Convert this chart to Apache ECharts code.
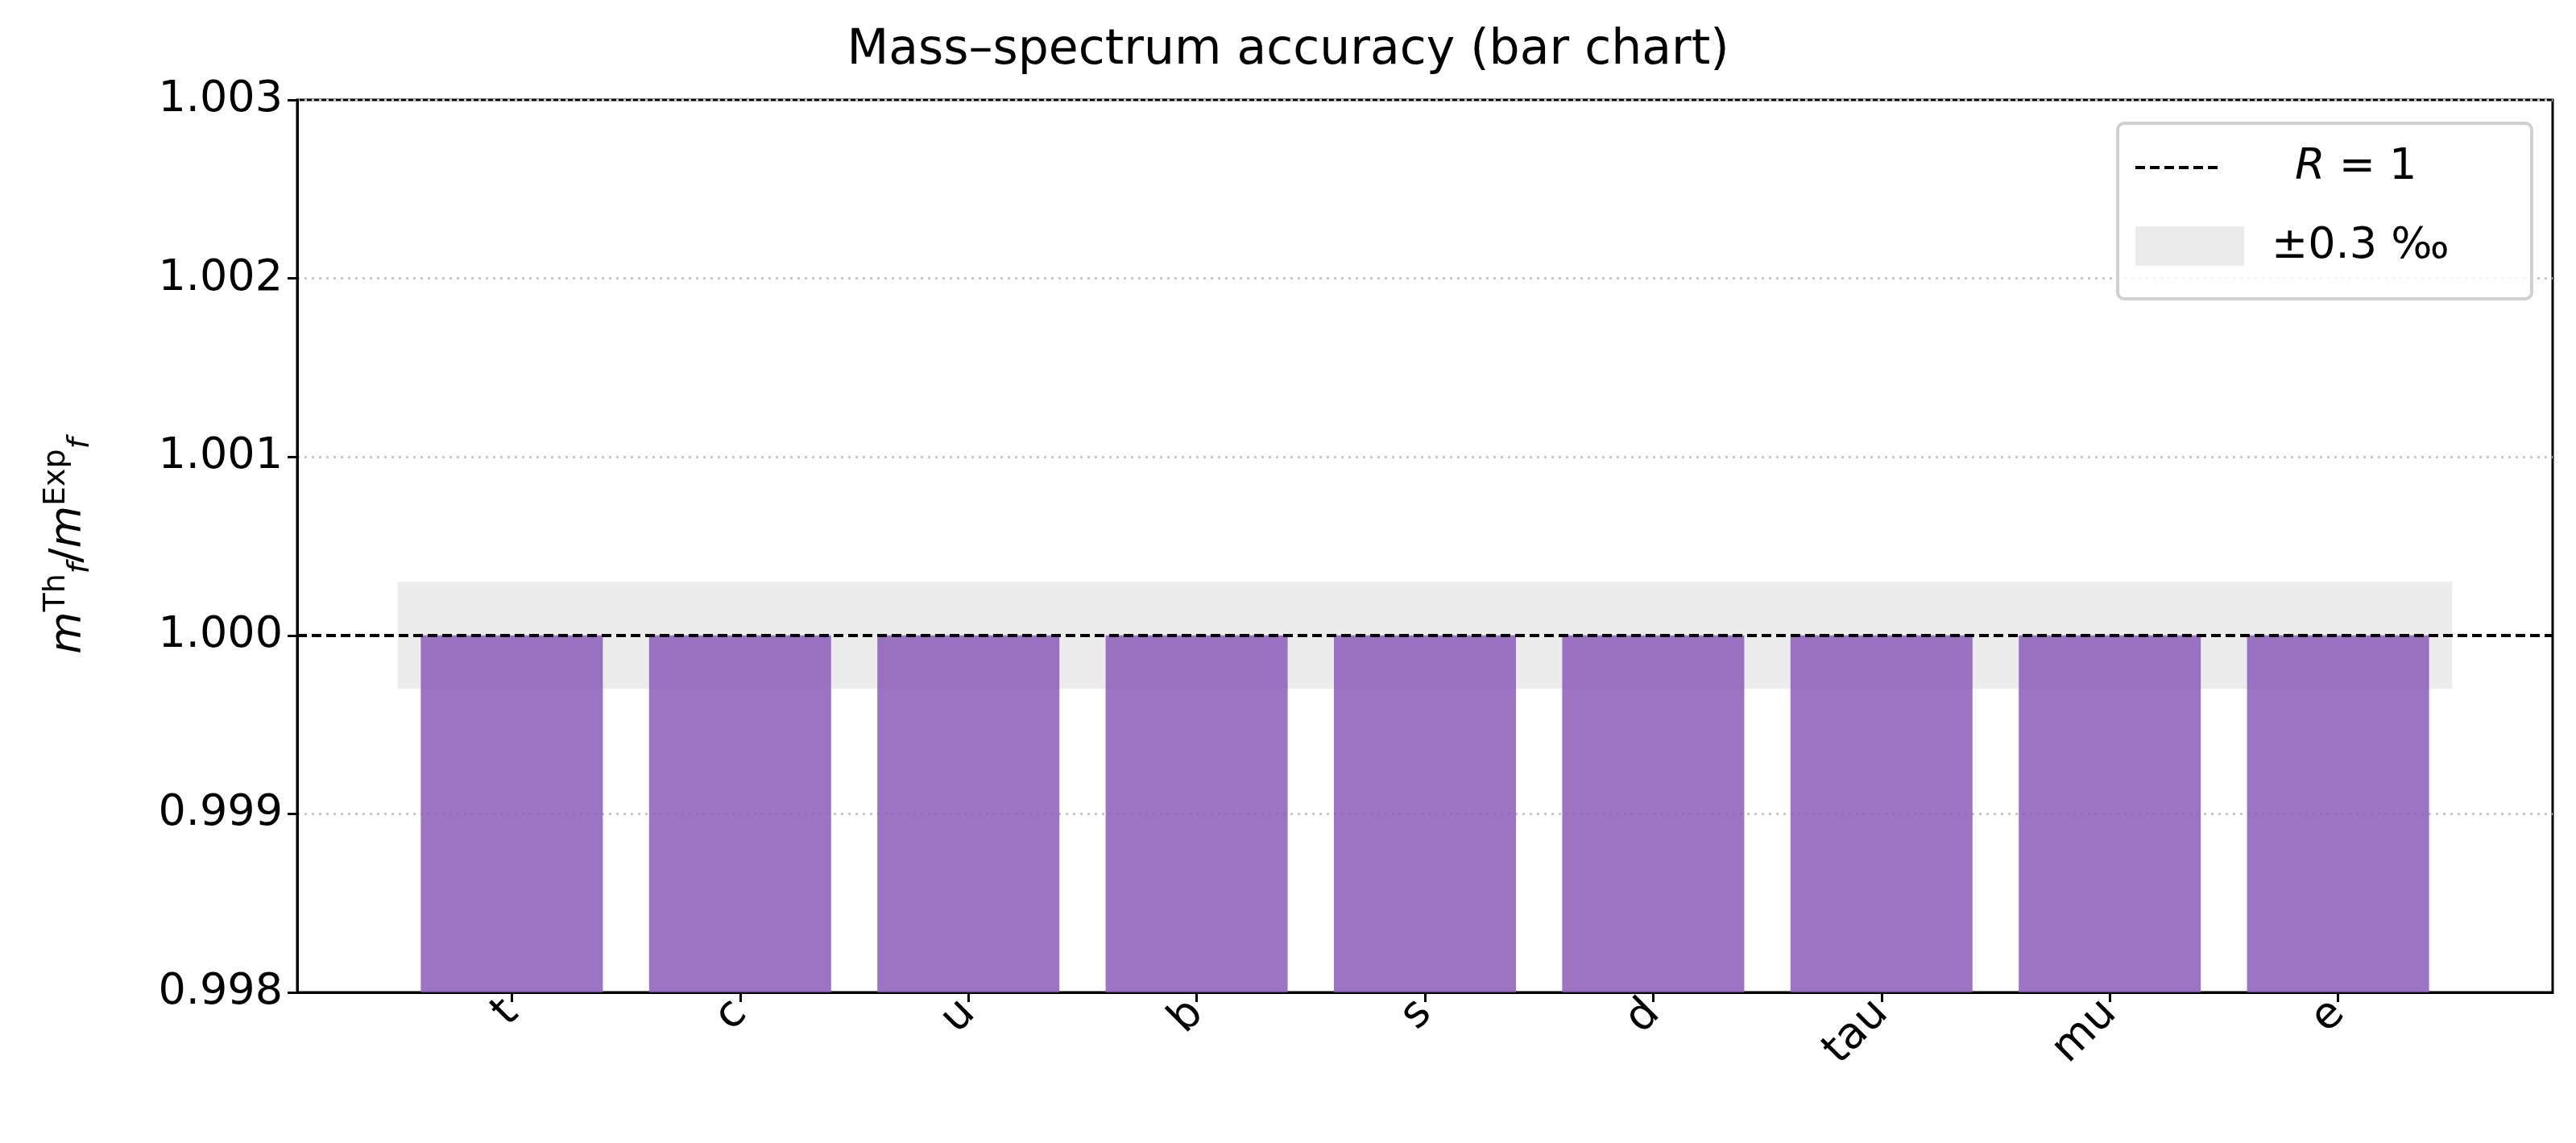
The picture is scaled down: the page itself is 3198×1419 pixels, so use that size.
<!DOCTYPE html>
<html><head><meta charset="utf-8">
<script src="https://cdn.jsdelivr.net/npm/echarts@6/dist/echarts.min.js"></script>
<style>html,body{margin:0;background:#fff}#c{width:3198px;height:1419px}</style>
</head><body><div id="c"></div>
<script>
// ---------------- data ----------------
let categories = ['t', 'c', 'u', 'b', 's', 'd', 'tau', 'mu', 'e'];
let ratio_values = [1.0, 1.0, 1.0, 1.0, 1.0, 1.0, 1.0, 1.0, 1.0];
let band_half = 0.0003;
let y_ticks = [0.998, 0.999, 1.000, 1.001, 1.002, 1.003];

let chart = echarts.init(document.getElementById('c'));
let font = 'DejaVu Sans';
let bar_data = ratio_values.map((v, i) => [i, v]);

let option = {
    backgroundColor: '#fff',
    animation: false,
    textStyle: {fontFamily: font},
    title: {
        text: 'Mass–spectrum accuracy (bar chart)',
        left: 'center', top: 28,
        textStyle: {fontSize: 60, fontWeight: 'normal', color: '#000', fontFamily: font}
    },
    grid: {left: 369, right: 29, top: 124, bottom: 187, show: true, borderColor: '#000', borderWidth: 3, backgroundColor: 'transparent'},
    xAxis: {
        type: 'value', min: -0.94, max: 8.94,
        splitLine: {show: false},
        axisLine: {onZero: false, lineStyle: {color: '#000', width: 3}},
        axisTick: {show: true, customValues: categories.map((c, i) => i), length: 12, lineStyle: {color: '#000', width: 3}},
        axisLabel: {
            customValues: categories.map((c, i) => i),
            formatter: v => categories[Math.round(v)],
            rotate: 45, fontSize: 54, color: '#000', margin: 18
        }
    },
    yAxis: {
        type: 'value', min: 0.998, max: 1.003, interval: 0.001,
        name: '{i|m}{s|Th}{i2|f}{n|/}{i|m}{s|Exp}{i2|f}',
        nameLocation: 'middle', nameGap: 250, nameRotate: 90,
        nameTextStyle: {
            fontSize: 54, color: '#000',
            rich: {
                i: {fontSize: 54, fontStyle: 'italic', fontFamily: font},
                n: {fontSize: 54, fontFamily: font},
                s: {fontSize: 38, verticalAlign: 'top', padding: [0, 0, 30, 0], fontFamily: font},
                i2: {fontSize: 38, fontStyle: 'italic', padding: [30, 0, 0, 0], fontFamily: font}
            }
        },
        axisLine: {show: true, onZero: false, lineStyle: {color: '#000', width: 3}},
        axisTick: {show: true, length: 12, lineStyle: {color: '#000', width: 3}},
        axisLabel: {formatter: v => v.toFixed(3), fontSize: 54, color: '#000', margin: 18},
        splitLine: {show: true, lineStyle: {type: [3, 6], color: '#c8c8c8', width: 3}}
    },
    series: [{
        type: 'bar',
        data: bar_data,
        barWidth: 226,
        itemStyle: {color: 'rgba(140, 90, 185, 0.85)'},
        markArea: {
            silent: true,
            itemStyle: {color: 'rgba(200,200,200,0.35)'},
            data: [[{xAxis: -0.5, yAxis: 1 - band_half}, {xAxis: 8.5, yAxis: 1 + band_half}]]
        },
        markLine: {
            silent: true, symbol: 'none', label: {show: false},
            lineStyle: {color: '#000', type: [12, 6], width: 4},
            data: [{yAxis: 1}]
        },
        z: 3
    }],
    graphic: [
        {type: 'rect', shape: {x: 2629, y: 153, width: 514, height: 218, r: 8},
         style: {fill: 'rgba(255,255,255,0.8)', stroke: '#d0d0d0', lineWidth: 4}, z: 100},
        {type: 'line', shape: {x1: 2651, y1: 208, x2: 2757, y2: 208},
         style: {stroke: '#000', lineWidth: 4, lineDash: [12, 6]}, z: 101},
        {type: 'text', x: 2849, y: 208, z: 101,
         style: {text: '{i|R} = 1', verticalAlign: 'middle', fontSize: 54, fontFamily: font, fill: '#000',
                 rich: {i: {fontStyle: 'italic', fontSize: 54, fontFamily: font}}}},
        {type: 'rect', shape: {x: 2651, y: 281, width: 135, height: 49},
         style: {fill: '#ebebeb'}, z: 101},
        {type: 'text', x: 2820, y: 306, z: 101,
         style: {text: '±0.3 ‰', verticalAlign: 'middle', fontSize: 54, fontFamily: font, fill: '#000'}}
    ]
};
chart.setOption(option);
</script>
</body></html>
